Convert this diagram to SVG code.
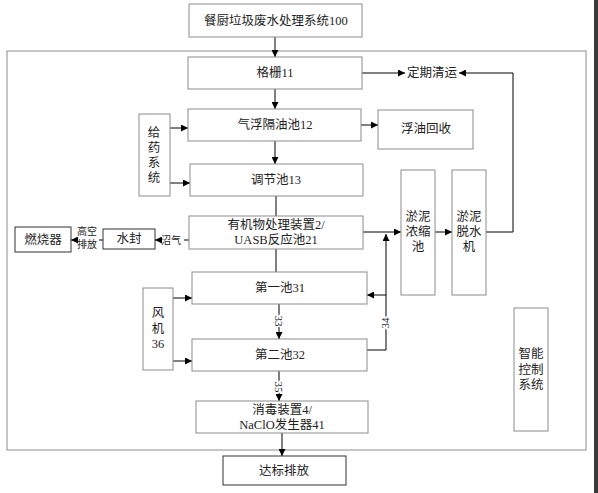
<svg xmlns="http://www.w3.org/2000/svg" width="598" height="493" viewBox="0 0 598 493">
<defs>
<marker id="ah" viewBox="0 0 10 10" refX="10" refY="5" markerWidth="8" markerHeight="7" markerUnits="userSpaceOnUse" orient="auto">
<path d="M0,0 L10,5 L0,10 z" fill="#000"/>
</marker>
</defs>
<style>
.box{fill:#fff;stroke:#8c8c8c;stroke-width:1}
.dbox{fill:#fff;stroke:#333;stroke-width:1}
.t{font-family:"Liberation Serif","Noto Sans CJK SC",serif;font-size:12.5px;fill:#222;text-anchor:middle;dominant-baseline:central}
.s{font-family:"Liberation Serif","Noto Sans CJK SC",serif;font-size:10px;fill:#222;text-anchor:middle;dominant-baseline:central}
.n{font-family:"Liberation Serif",serif;font-size:11px;fill:#222;text-anchor:middle;dominant-baseline:central;stroke:#fff;stroke-width:3;paint-order:stroke}
.ln{fill:none;stroke:#000;stroke-width:1}
.ar{fill:none;stroke:#000;stroke-width:1;marker-end:url(#ah)}
</style>
<rect x="0" y="0" width="598" height="493" fill="#fff"/>
<rect x="594" y="0" width="4" height="493" fill="#3a3a3a"/>
<rect id="frame" x="7" y="51" width="579" height="399" fill="none" stroke="#8c8c8c" stroke-width="1"/>

<g id="connectors">
<path class="ar" d="M275,37 V57"/>
<path class="ar" d="M275,89 V109"/>
<path class="ar" d="M362,73 H405"/>
<path class="ar" d="M513,232 V73 H459"/>
<path class="ln" d="M486,232 H513"/>
<path class="ar" d="M361,125 H378"/>
<path class="ar" d="M170,128 H188"/>
<path class="ar" d="M170,183 H190"/>
<path class="ar" d="M275,141 V164"/>
<path class="ln" d="M276,196 V216"/>
<path class="ln" d="M276,249 V272"/>
<path class="ar" d="M363,232 H401"/>
<path class="ar" d="M435,232 H452"/>
<path class="ln" d="M367,350 H386 V295"/>
<path class="ar" d="M386,295 V234"/>
<path class="ar" d="M386,295 H367"/>
<path class="ar" d="M279,304 V339"/>
<path class="ar" d="M173,298 H192"/>
<path class="ar" d="M173,361 H192"/>
<path class="ar" d="M279,371 V401"/>
<path class="ar" d="M282,433 V456"/>
<path class="ln" d="M189,240 H184"/>
<path class="ar" d="M162,240 H155"/>
<path class="ln" d="M103,240 H99"/>
<path class="ar" d="M76,240 H71"/>
<text class="s" x="171" y="240">沼气</text>
<text class="s" x="87" y="231">高空</text>
<text class="s" x="87" y="244">排放</text>
<text class="n" transform="translate(279,321) rotate(90)">33</text>
<text class="n" transform="translate(385,323) rotate(-90)">34</text>
<text class="n" transform="translate(279,387) rotate(90)">35</text>
<text class="t" x="432" y="73">定期清运</text>
</g>

<g id="n-system">
<rect class="box" x="189" y="4" width="173" height="33"/>
<text class="t" x="276" y="20.5">餐厨垃圾废水处理系统100</text>
</g>
<g id="n-grid">
<rect class="box" x="188" y="57" width="174" height="32"/>
<text class="t" x="275" y="73">格栅11</text>
</g>
<g id="n-float">
<rect class="box" x="188" y="109" width="173" height="32"/>
<text class="t" x="275" y="125">气浮隔油池12</text>
</g>
<g id="n-oil">
<rect class="box" x="378" y="110" width="95" height="39"/>
<text class="t" x="426" y="129">浮油回收</text>
</g>
<g id="n-dosing">
<rect class="box" x="139" y="114" width="31" height="82"/>
<text class="t" x="154" y="133">给</text>
<text class="t" x="154" y="148">药</text>
<text class="t" x="154" y="163">系</text>
<text class="t" x="154" y="178">统</text>
</g>
<g id="n-adjust">
<rect class="box" x="190" y="164" width="173" height="32"/>
<text class="t" x="276" y="180">调节池13</text>
</g>
<g id="n-uasb">
<rect class="box" x="189" y="216" width="174" height="33"/>
<text class="t" x="276" y="224.5">有机物处理装置2/</text>
<text class="t" x="276" y="239.5">UASB反应池21</text>
</g>
<g id="n-seal">
<rect class="dbox" x="103" y="229" width="52" height="20"/>
<text class="t" x="129" y="239">水封</text>
</g>
<g id="n-burner">
<rect class="dbox" x="15" y="227" width="56" height="25"/>
<text class="t" x="43" y="239.5">燃烧器</text>
</g>
<g id="n-thicken">
<rect class="box" x="401" y="170" width="34" height="125"/>
<text class="t" x="418" y="217">淤泥</text>
<text class="t" x="418" y="232">浓缩</text>
<text class="t" x="418" y="247">池</text>
</g>
<g id="n-dewater">
<rect class="box" x="452" y="170" width="34" height="125"/>
<text class="t" x="469" y="217">淤泥</text>
<text class="t" x="469" y="232">脱水</text>
<text class="t" x="469" y="247">机</text>
</g>
<g id="n-pool1">
<rect class="box" x="192" y="272" width="175" height="32"/>
<text class="t" x="280" y="288">第一池31</text>
</g>
<g id="n-fan">
<rect class="box" x="143" y="288" width="30" height="82"/>
<text class="t" x="158" y="313">风</text>
<text class="t" x="158" y="329">机</text>
<text class="t" x="158" y="344">36</text>
</g>
<g id="n-pool2">
<rect class="box" x="192" y="339" width="175" height="32"/>
<text class="t" x="280" y="355">第二池32</text>
</g>
<g id="n-disinfect">
<rect class="box" x="196" y="401" width="172" height="32"/>
<text class="t" x="282" y="409.5">消毒装置4/</text>
<text class="t" x="282" y="424.5">NaClO发生器41</text>
</g>
<g id="n-discharge">
<rect class="dbox" x="223" y="456" width="123" height="29"/>
<text class="t" x="284" y="470.5">达标排放</text>
</g>
<g id="n-control">
<rect class="box" x="514" y="308" width="34" height="123"/>
<text class="t" x="531" y="354">智能</text>
<text class="t" x="531" y="370">控制</text>
<text class="t" x="531" y="385">系统</text>
</g>
</svg>
